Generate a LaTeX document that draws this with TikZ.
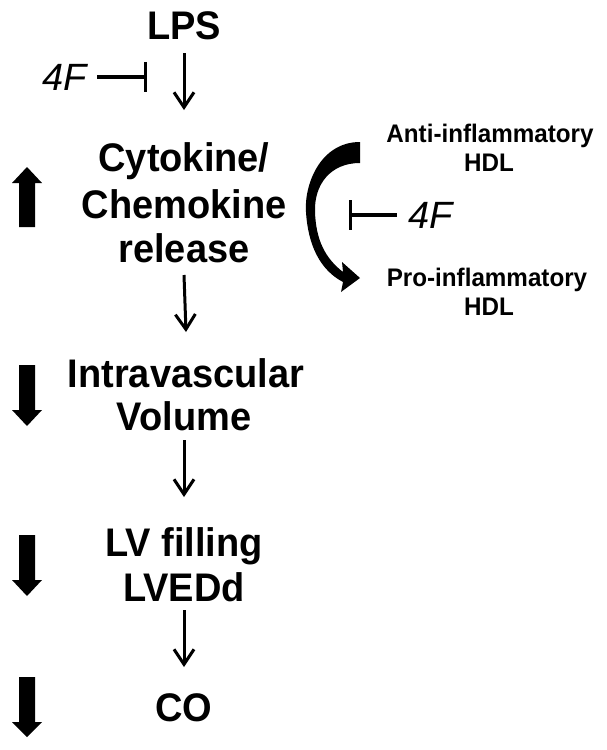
\documentclass[tikz,border=0pt]{standalone}
\usepackage{fontspec}
\setmainfont{Liberation Sans}
\usetikzlibrary{arrows.meta}
\newcommand{\tallbox}[1]{\scalebox{1}[1.05]{#1}}
\begin{document}
\begin{tikzpicture}[x=1pt,y=-1pt,
  main/.style={font=\bfseries\fontsize{38}{45}\selectfont, inner sep=0pt, anchor=base},
  side/.style={font=\bfseries\fontsize{24.2}{30}\selectfont, inner sep=0pt, anchor=base},
  drug/.style={font=\itshape\fontsize{38}{45}\selectfont, inner sep=0pt, anchor=base},
  arr/.style={line width=3pt, -{Straight Barb[length=15pt,width=20pt,line width=3pt]}},
  inh/.style={line width=3.2pt, -{Bar[width=30pt,line width=3.2pt]}},
  blk/.style={fill=black}]
\useasboundingbox[fill=white] (0,0) rectangle (606,750);
% main chain
\node[main] (lps) at (184,39) {\tallbox{LPS}};
\node[main] (cyt1) at (184,171) {\tallbox{Cytokine/}};
\node[main] (cyt2) at (184,218) {\tallbox{Chemokine}};
\node[main] (cyt3) at (184,262) {\tallbox{release}};
\node[main] (iv1) at (186,387) {\tallbox{Intravascular}};
\node[main] (iv2) at (184,430) {\tallbox{Volume}};
\node[main] (lv1) at (184,556) {\tallbox{LV filling}};
\node[main] (lv2) at (184,601) {\tallbox{LVEDd}};
\node[main] (co) at (184,721) {\tallbox{CO}};
% HDL labels
\node[side] (anti1) at (490,142.5) {\tallbox{Anti-inflammatory}};
\node[side] (anti2) at (489,171) {\tallbox{HDL}};
\node[side] (pro1) at (487,286.5) {\tallbox{Pro-inflammatory}};
\node[side] (pro2) at (489,315) {\tallbox{HDL}};
% 4F
\node[drug] (fa) at (65,90) {4F};
\node[drug] (fb) at (431,228) {4F};
\coordinate (ba) at (147,76);
\coordinate (bb) at (349,215);
\draw[inh, shorten <=10pt] (fa.east) -- (fa.east -| ba);
\draw[inh, shorten <=12pt] (fb.west) -- (fb.west -| bb);
% thin arrows
\draw[arr] ([yshift=-14pt]lps.base) -- ([yshift=61pt]cyt1.base);
\draw[arr] ([yshift=-13pt]cyt3.base) -- ([yshift=55pt]iv1.base);
\draw[arr] ([yshift=-10pt]iv2.base) -- ([yshift=59pt]lv1.base);
\draw[arr] ([yshift=-9pt]lv2.base) -- ([yshift=54pt]co.base);
% curved conversion arrow
\fill (360,142) .. controls (320,142) and (304,185) .. (306,212)
  .. controls (308,245) and (320,270) .. (343,282)
  -- (341,292) -- (360,278) -- (342,262) -- (343,272)
  .. controls (325,258) and (316,240) .. (315,212)
  .. controls (314,185) and (330,163) .. (360,163) -- cycle;
% block arrows
\fill[blk] (19,227) -- (19,183) -- (12,183) -- (27,167) -- (42,183) -- (35,183) -- (35,227) -- cycle;
\fill[blk] (19,365) -- (19,410) -- (12,410) -- (27,426) -- (42,410) -- (35,410) -- (35,365) -- cycle;
\fill[blk] (19,535) -- (19,580) -- (12,580) -- (27,596) -- (42,580) -- (35,580) -- (35,535) -- cycle;
\fill[blk] (19,677) -- (19,722) -- (12,722) -- (27,737) -- (42,722) -- (35,722) -- (35,677) -- cycle;
\end{tikzpicture}
\end{document}
